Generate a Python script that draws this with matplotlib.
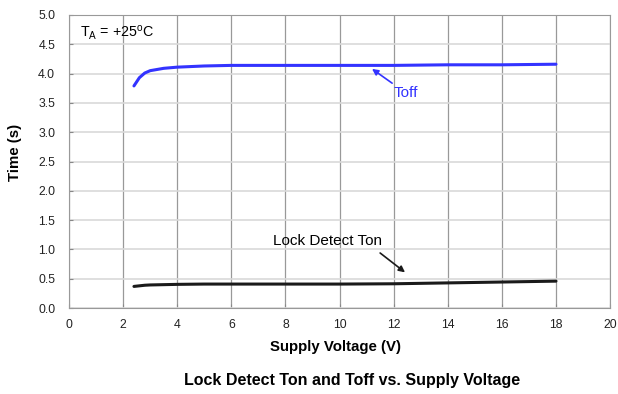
import matplotlib
matplotlib.use("Agg")
import matplotlib.pyplot as plt

plt.rcParams["font.family"] = ["Liberation Sans", "DejaVu Sans"]
plt.rcParams["mathtext.fontset"] = "custom"
plt.rcParams["mathtext.rm"] = "Liberation Sans"

# supply voltage (V)
voltage = [2.4, 2.6, 2.8, 3.0, 3.5, 4.0, 5.0, 6.0, 8.0, 10.0, 12.0, 14.0, 16.0, 18.0]
# Toff (s)
toff = [3.79, 3.93, 4.01, 4.05, 4.09, 4.11, 4.13, 4.14, 4.14, 4.14, 4.14, 4.15, 4.15, 4.16]
# Lock detect Ton (s)
ton = [0.37, 0.38, 0.39, 0.395, 0.40, 0.405, 0.41, 0.41, 0.41, 0.41, 0.415, 0.43, 0.445, 0.46]

fig = plt.figure(figsize=(6.18, 3.94), dpi=100)
ax = fig.add_axes([0.1117, 0.218, 0.8755, 0.744])

ax.plot(voltage, toff, color="#3333ff", lw=2.2, solid_capstyle="round")
ax.plot(voltage, ton, color="#1a1a1a", lw=2.2, solid_capstyle="round")

ax.set_xlim(0, 20)
ax.set_ylim(0, 5)
ax.set_xticks(range(0, 21, 2))
ax.set_yticks([i * 0.5 for i in range(11)])
ax.set_yticklabels([f"{i * 0.5:.1f}" for i in range(11)])
ax.tick_params(labelsize=8.8, length=3, color="#888888", direction="in", labelcolor="#222222")
ax.tick_params(axis="y", pad=10)
ax.tick_params(axis="x", pad=8)

ax.xaxis.grid(True, color="#999999", lw=0.9)
ax.yaxis.grid(True, color="#d9d9d9", lw=1.2)
ax.set_axisbelow(True)
for s in ax.spines.values():
    s.set_color("#999999")

ax.set_xlabel("Supply Voltage (V)", fontsize=10.8, fontweight="bold", va="center")
ax.xaxis.set_label_coords(0.4917, -0.133)
ax.set_ylabel("Time (s)", fontsize=10.8, fontweight="bold", va="center")
ax.yaxis.set_label_coords(-0.1, 0.532)

ax.text(0.4, 4.69, r"T$_\mathrm{A}$ = +25$^\mathrm{o}$C", fontsize=10.3, va="center")

ax.annotate("Toff", xy=(11.2, 4.08), xytext=(12.0, 3.67), color="#3333ff",
            fontsize=11, va="center", ha="left",
            arrowprops=dict(arrowstyle="-|>", color="#3333ff", lw=1.2,
                            mutation_scale=9, shrinkA=0, shrinkB=0))
ax.annotate("", xy=(12.42, 0.61), xytext=(11.5, 0.94),
            arrowprops=dict(arrowstyle="-|>", color="#1a1a1a", lw=1.2,
                            mutation_scale=9, shrinkA=0, shrinkB=0))
ax.text(9.57, 1.14, "Lock Detect Ton", fontsize=11, ha="center", va="center")

fig.text(0.5696, 0.0355, "Lock Detect Ton and Toff vs. Supply Voltage", fontsize=11.5,
         fontweight="bold", ha="center", va="center")

fig.savefig("out.png", dpi=100)
